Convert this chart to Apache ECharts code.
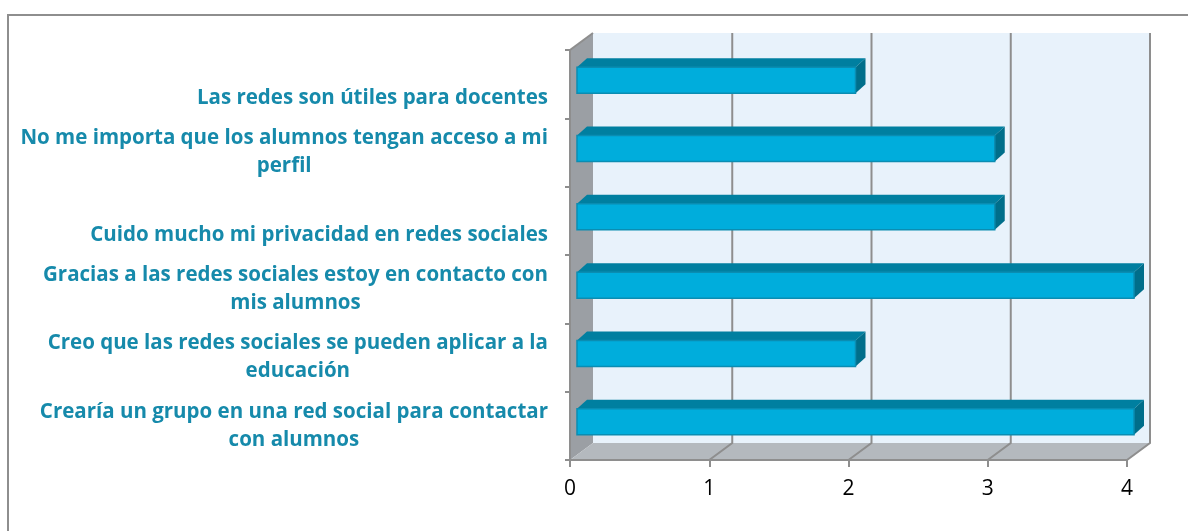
<!DOCTYPE html>
<html>
<head>
<meta charset="utf-8">
<script src="https://cdn.jsdelivr.net/npm/echarts@6/dist/echarts.min.js"></script>
<style>
html, body { margin: 0; padding: 0; background: #fff; }
#main { width: 1188px; height: 531px; }
</style>
</head>
<body>
<div id="main"></div>
<script>
// categorías de abajo hacia arriba
var categories = [
	'Crearía un grupo en una red social para contactar\ncon alumnos',
	'Creo que las redes sociales se pueden aplicar a la\neducación',
	'Gracias a las redes sociales estoy en contacto con\nmis alumnos',
	'Cuido mucho mi privacidad en redes sociales',
	'No me importa que los alumnos tengan acceso a mi\nperfil',
	'Las redes son útiles para docentes'
];
var values = [4, 2, 4, 3, 3, 2];
var xTicks = [0, 1, 2, 3, 4];

var DX = 23, DY = -17; // profundidad de la caja 3D
var GRID_COLOR = '#8e8e8e';

var chart = echarts.init(document.getElementById('main'));

function renderWalls(params, api) {
	var cs = params.coordSys;
	var x0 = cs.x, x1 = cs.x + cs.width, y0 = cs.y, y1 = cs.y + cs.height;
	var lineStyle = { stroke: GRID_COLOR, lineWidth: 2, fill: null };
	var children = [
		// pared del fondo
		{ type: 'rect', shape: { x: x0 + DX, y: y0 + DY, width: cs.width, height: cs.height },
			style: { fill: '#e8f2fb' } },
		// pared lateral
		{ type: 'polygon', shape: { points: [[x0, y0], [x0 + DX, y0 + DY], [x0 + DX, y1 + DY], [x0, y1]] },
			style: { fill: '#9b9fa4' } },
		// suelo
		{ type: 'polygon', shape: { points: [[x0, y1], [x0 + DX, y1 + DY], [x1 + DX, y1 + DY], [x1, y1]] },
			style: { fill: '#b4b9be' } },
		// borde superior de la pared lateral
		{ type: 'polyline', shape: { points: [[x0, y0], [x0 + DX, y0 + DY]] }, style: lineStyle }
	];
	xTicks.forEach(function (v) {
		if (v === 0) return;
		var x = api.coord([v, 0])[0];
		children.push({ type: 'polyline',
			shape: { points: [[x + DX, y0 + DY], [x + DX, y1 + DY], [x, y1]] },
			style: lineStyle });
	});
	return { type: 'group', children: children };
}

function renderBar(params, api) {
	var idx = api.value(1);
	var end = api.coord([api.value(0), idx]);
	var start = api.coord([0, idx]);
	var band = api.size([0, 1])[1];
	var h = band * 0.38;
	var dx = 10, dy = -9;
	var xl = start[0] + 7, xr = end[0] + 7;
	var yt = end[1] - 4 - h / 2, yb = yt + h;
	return {
		type: 'group',
		children: [
			{ type: 'polygon', shape: { points: [[xl, yt], [xl + dx, yt + dy], [xr + dx, yt + dy], [xr, yt]] },
				style: { fill: '#007fa0' } },
			{ type: 'polygon', shape: { points: [[xr, yt], [xr + dx, yt + dy], [xr + dx, yb + dy], [xr, yb]] },
				style: { fill: '#006e8a' } },
			{ type: 'rect', shape: { x: xl, y: yt, width: xr - xl, height: h },
				style: { fill: '#00addc', stroke: '#0a8db2', lineWidth: 1.5 } }
		]
	};
}

chart.setOption({
	animation: false,
	graphic: [{
		type: 'rect',
		shape: { x: 8, y: 15, width: 1400, height: 700 },
		style: { fill: null, stroke: GRID_COLOR, lineWidth: 2 },
		z: 10
	}],
	grid: {
		left: 570,
		top: 50,
		right: 61,
		bottom: 71
	},
	xAxis: {
		type: 'value',
		min: 0,
		max: 4,
		interval: 1,
		z: 5,
		splitLine: { show: false },
		axisLine: { show: true, lineStyle: { color: GRID_COLOR, width: 2 } },
		axisTick: { show: true, length: 7, lineStyle: { color: GRID_COLOR, width: 2 } },
		axisLabel: {
			margin: 19,
			color: '#000',
			fontSize: 21,
			fontFamily: 'Open Sans'
		}
	},
	yAxis: {
		type: 'category',
		data: categories,
		z: 5,
		axisLine: { show: true, lineStyle: { color: GRID_COLOR, width: 2 } },
		axisTick: { show: true, length: 5, lineStyle: { color: GRID_COLOR, width: 2 } },
		axisLabel: {
			margin: 22,
			align: 'right',
			lineHeight: 28,
			formatter: function (value) {
				var lines = value.split('\n');
				var txt = lines.map(function (l) { return '{c|' + l + '}'; }).join('\n');
				// las etiquetas de una sola línea quedan desplazadas hacia abajo
				return lines.length === 1 ? '\n' + txt : txt;
			},
			rich: {
				c: {
					align: 'center',
					color: '#168aab',
					fontSize: 20.5,
					fontWeight: 'bold',
					fontFamily: 'Open Sans',
					lineHeight: 28
				}
			}
		}
	},
	series: [{
		type: 'custom',
		name: 'walls',
		z: 1,
		silent: true,
		renderItem: renderWalls,
		data: [[0, 0]],
		encode: { x: 0, y: 1 }
	}, {
		type: 'custom',
		name: 'valores',
		z: 3,
		renderItem: renderBar,
		data: values.map(function (v, i) { return [v, i]; }),
		encode: { x: 0, y: 1 }
	}]
});
</script>
</body>
</html>
